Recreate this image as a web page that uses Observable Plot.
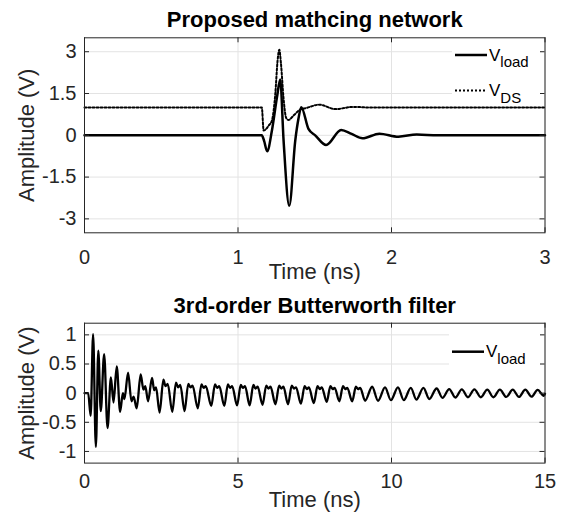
<!DOCTYPE html>
<html><head><meta charset="utf-8">
<script src="https://cdn.jsdelivr.net/npm/d3@7"></script>
<script src="https://cdn.jsdelivr.net/npm/@observablehq/plot@0.6"></script>
<style>
body{margin:0;background:#fff;}
#wrap{position:relative;width:561px;height:516px;font-family:"Liberation Sans",Arial,Helvetica,sans-serif;}
#wrap svg{position:absolute;left:0;}
</style></head><body><div id="wrap"></div>
<script>
// ---------- DATA ----------
const titleTop = "Proposed mathcing network";
const titleBottom = "3rd-order Butterworth filter";
const xLabel = "Time (ns)";
const yLabel = "Amplitude (V)";

// Top panel: V_load
const tLoad = [0, 1.155, 1.17, 1.19, 1.221, 1.254, 1.275, 1.297, 1.334, 1.373, 1.394, 1.412, 1.459, 1.503, 1.574, 1.672, 1.74, 1.811, 1.921, 2.045, 2.164, 2.3, 3];
const vLoad = [0, 0, -0.2, -0.57, 0.17, 1.37, 2.0, -0.19, -2.53, -0.19, 0.6, 1.01, 0.23, 0.0, -0.35, 0.19, 0.05, -0.11, 0.06, -0.05, 0.03, 0, 0];
// Top panel: V_DS
const tDS = [0, 1.155, 1.167, 1.2, 1.221, 1.243, 1.258, 1.269, 1.28, 1.296, 1.314, 1.329, 1.362, 1.405, 1.445, 1.531, 1.633, 1.752, 1.85, 3];
const vDS = [1.0, 1.0, 0.17, 0.35, 0.53, 1.49, 2.69, 3.07, 2.57, 1.37, 0.62, 0.55, 0.71, 0.92, 0.98, 1.1, 0.94, 1.02, 1.0, 1.0];

const xTopTicks = [0, 1, 2, 3];
const xTopLabels = ["0", "1", "2", "3"];
const yTopTicks = [-3, -1.5, 0, 1.5, 3];
const yTopLabels = ["-3", "-1.5", "0", "1.5", "3"];

// Bottom panel: V_load (Butterworth)
const tBW = [0, 0.12, 0.2, 0.28, 0.37, 0.45, 0.53, 0.64, 0.75, 0.86, 0.945, 1.05, 1.16, 1.25, 1.3, 1.42, 1.53, 1.6, 1.70, 1.83, 1.92, 1.98, 2.07, 2.2, 2.27, 2.33,
  2.445, 2.57, 2.64, 2.71,
  2.86, 2.98, 3.05, 3.12,
  3.26, 3.38, 3.45, 3.52,
  3.69, 3.81, 3.88, 3.95,
  4.13, 4.25, 4.32, 4.39,
  4.555, 4.67, 4.74, 4.81,
  4.97, 5.09, 5.16, 5.23,
  5.38, 5.50, 5.57, 5.64,
  5.80, 5.92, 5.99, 6.06,
  6.22, 6.34, 6.41, 6.48,
  6.63, 6.75, 6.82, 6.89,
  7.05, 7.17, 7.24, 7.31,
  7.47, 7.59, 7.66, 7.73,
  7.89, 8.01, 8.08, 8.15,
  8.30, 8.42, 8.49, 8.56,
  8.72, 8.84, 8.91, 8.98,
  9.14, 9.37, 9.56, 9.79, 9.98, 10.21, 10.40, 10.63, 10.81, 11.04,
  11.23, 11.47, 11.66, 11.88, 12.08, 12.29, 12.49, 12.70, 12.91, 13.12,
  13.32, 13.53, 13.74, 13.95, 14.15, 14.36, 14.56, 14.76, 14.96, 15.0];
const vBW = [0, 0, -0.39, 1.01, -0.92, 0.73, -0.31, 0.67, -0.6, 0.27, -0.16, 0.46, -0.32, 0.0, -0.1, 0.35, -0.14, -0.06, -0.26, 0.32, 0.06, 0.12, -0.14, 0.26, 0.05, 0.1,
  -0.335, 0.23, 0.12, 0.16,
  -0.32, 0.18, 0.1, 0.14,
  -0.31, 0.16, 0.1, 0.13,
  -0.26, 0.15, 0.09, 0.12,
  -0.22, 0.15, 0.09, 0.12,
  -0.22, 0.15, 0.09, 0.12,
  -0.21, 0.14, 0.09, 0.12,
  -0.21, 0.14, 0.08, 0.11,
  -0.2, 0.13, 0.08, 0.11,
  -0.19, 0.13, 0.08, 0.11,
  -0.19, 0.13, 0.08, 0.1,
  -0.18, 0.12, 0.07, 0.1,
  -0.17, 0.12, 0.07, 0.1,
  -0.15, 0.12, 0.07, 0.09,
  -0.14, 0.12, 0.07, 0.09,
  -0.14, 0.11, 0.07, 0.09,
  -0.13, 0.11, -0.13, 0.1, -0.12, 0.1, -0.12, 0.09, -0.11, 0.09,
  -0.1, 0.08, -0.08, 0.07, -0.075, 0.065, -0.07, 0.065, -0.07, 0.06,
  -0.07, 0.06, -0.065, 0.06, -0.065, 0.06, -0.06, 0.055, -0.045, -0.01];

const xBotTicks = [0, 5, 10, 15];
const xBotLabels = ["0", "5", "10", "15"];
const yBotTicks = [-1, -0.5, 0, 0.5, 1];
const yBotLabels = ["-1", "-0.5", "0", "0.5", "1"];

const legendTop = [{name: "V", sub: "load", dash: null}, {name: "V", sub: "DS", dash: "2,2"}];
const legendBottom = [{name: "V", sub: "load", dash: null}];

// ---------- STYLE ----------
const FONT = '"Liberation Sans", Arial, Helvetica, sans-serif';
const INK = "#262626";
const GRID = "#e3e3e3";
const W = 561, ML = 84, MR = 16.5;
const pw = W - ML - MR;

function panel(o) {
  const ph = o.height - o.mt - o.mb;
  const xmap = new Map(o.xTicks.map((d, i) => [d, o.xLabels[i]]));
  const ymap = new Map(o.yTicks.map((d, i) => [d, o.yLabels[i]]));
  return Plot.plot({
    width: W, height: o.height,
    marginLeft: ML, marginRight: MR, marginTop: o.mt, marginBottom: o.mb,
    style: {fontFamily: FONT, color: INK, background: "transparent", overflow: "visible"},
    x: {domain: o.xDomain},
    y: {domain: o.yDomain},
    marks: [
      Plot.gridX(o.xTicks, {stroke: GRID, strokeOpacity: 1, strokeWidth: 1}),
      Plot.gridY(o.yTicks, {stroke: GRID, strokeOpacity: 1, strokeWidth: 1}),
      ...o.lines,
      Plot.frame({stroke: INK, strokeWidth: 1}),
      Plot.ruleX(o.xTicks, {stroke: INK, insetTop: ph - 5}),
      Plot.ruleX(o.xTicks, {stroke: INK, insetBottom: ph - 5}),
      Plot.ruleY(o.yTicks, {stroke: INK, insetRight: pw - 5}),
      Plot.ruleY(o.yTicks, {stroke: INK, insetLeft: pw - 5}),
      Plot.axisX(o.xTicks, {tickSize: 0, tickPadding: o.xPad, fontSize: 20, label: null, tickFormat: d => xmap.get(d), fill: INK}),
      Plot.axisY(o.yTicks, {tickSize: 0, tickPadding: 8, fontSize: 20, label: null, tickFormat: d => ymap.get(d), fill: INK}),
      Plot.text([xLabel], {text: d => d, frameAnchor: "bottom", dy: o.xLabDy, fontSize: 22, lineAnchor: "middle", fill: INK}),
      Plot.text([yLabel], {text: d => d, frameAnchor: "left", textAnchor: "middle", dx: -58, rotate: -90, fontSize: 22, lineAnchor: "middle", fill: INK}),
      Plot.text([o.title], {text: d => d, frameAnchor: "top", dy: -17.5, fontSize: 22, fontWeight: "bold", lineAnchor: "middle", fill: "#000"})
    ]
  });
}

const topData = tLoad.map((t, i) => ({t, v: vLoad[i]}));
const dsData = tDS.map((t, i) => ({t, v: vDS[i]}));
const bwData = tBW.map((t, i) => ({t, v: vBW[i]}));

const H1 = 285, H2 = 231;
const topPlot = panel({
  height: H1, mt: 37.3, mb: H1 - 232.3, xDomain: [0, 3], yDomain: [-3.5, 3.5],
  xTicks: xTopTicks, xLabels: xTopLabels, yTicks: yTopTicks, yLabels: yTopLabels,
  xPad: 16.5, xLabDy: 39, title: titleTop,
  lines: [
    Plot.line(dsData, {x: "t", y: "v", stroke: "#000", strokeWidth: 2, strokeDasharray: "2,2", curve: "monotone-x"}),
    Plot.line(topData, {x: "t", y: "v", stroke: "#000", strokeWidth: 2.5, curve: "monotone-x"})
  ]
});
const botPlot = panel({
  height: H2, mt: 322.7 - 285, mb: 516 - 462.6, xDomain: [0, 15], yDomain: [-1.2, 1.2],
  xTicks: xBotTicks, xLabels: xBotLabels, yTicks: yBotTicks, yLabels: yBotLabels,
  xPad: 11, xLabDy: 37, title: titleBottom,
  lines: [
    Plot.line(bwData, {x: "t", y: "v", stroke: "#000", strokeWidth: 2.3, curve: "monotone-x"})
  ]
});

const wrap = document.getElementById("wrap");
topPlot.style.top = "0px";
botPlot.style.top = "285px";
wrap.appendChild(topPlot);
wrap.appendChild(botPlot);

// ---------- LEGENDS (overlay) ----------
function legend(items, box, rowY) {
  let s = `<rect x="${box[0]}" y="${box[1]}" width="${box[2]}" height="${box[3]}" fill="#fff"/>`;
  items.forEach((it, i) => {
    const y = rowY[i];
    s += `<line x1="${box[0] + 3}" x2="${box[0] + 35}" y1="${y}" y2="${y}" stroke="#000" stroke-width="${it.dash ? 2 : 2.5}" ${it.dash ? `stroke-dasharray="${it.dash}"` : ""}/>`;
    s += `<text x="${box[0] + 37}" y="${y + 5.5}" font-size="17" fill="#000" font-family='${FONT}'>${it.name}<tspan dy="6.5" font-size="15">${it.sub}</tspan></text>`;
  });
  return s;
}
const ov = document.createElementNS("http://www.w3.org/2000/svg", "svg");
ov.setAttribute("width", W); ov.setAttribute("height", 516);
ov.style.top = "0px"; ov.style.pointerEvents = "none";
ov.innerHTML = legend(legendTop, [452, 40, 88, 62], [55, 90.5]) + legend(legendBottom, [449, 328, 91, 42], [351.7]);
wrap.appendChild(ov);
</script></body></html>
